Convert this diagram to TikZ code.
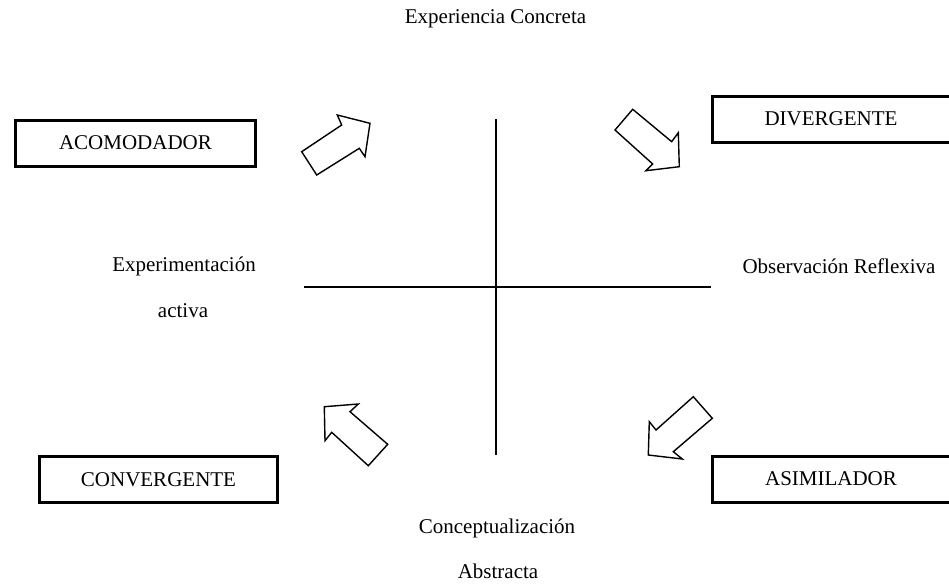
\documentclass[tikz,border=0pt]{standalone}
\usepackage{fontspec}
\setmainfont{Liberation Serif}
\begin{document}
\begin{tikzpicture}[x=1pt,y=-1pt,
  every node/.style={font=\fontsize{21}{25}\selectfont, inner sep=0pt},
  stylebox/.style={draw, line width=3pt, minimum width=#1, minimum height=46pt},
  blockarrow/.style={draw, line width=1.4pt, fill=white, line join=miter},
  axis/.style={line width=1.5pt}]
\useasboundingbox (0,0) rectangle (949,584);

% boxes
\node[stylebox=240pt] (acom) at (135.5,143) {ACOMODADOR};
\node[stylebox=246pt] (div) at (835.5,119) {DIVERGENTE\hspace*{9pt}};
\node[stylebox=238pt] (conv) at (158.5,479.5) {CONVERGENTE};
\node[stylebox=246pt] (asim) at (835.5,479) {ASIMILADOR\hspace*{9pt}};

% labels
\node (ec) at (495.5,19) {Experiencia Concreta};
\node (ea1) at (184,266) {Experimentación};
\node (ea2) at (183,311) {activa};
\node (or) at (839,266) {Observación Reflexiva};
\node (ca1) at (497,528) {Conceptualización};
\node (ca2) at (498,571) {Abstracta};

% axes
\coordinate (vt) at (496,119);
\coordinate (vb) at (496,455);
\coordinate (hl) at (304,287);
\coordinate (hr) at (711,287);
\draw[axis] (vt) -- (vb);
\draw[axis] (hl) -- (hr);

% block arrows
\draw[blockarrow] (316.7,175) -- (359.3,148.3) -- (365,156.7) -- (370,123.3) -- (337.3,115) -- (341.7,125) -- (301.7,151.7) -- cycle;
\draw[blockarrow] (615,130) -- (632.7,109.3) -- (671.7,141.7) -- (678.3,132.7) -- (679.3,166.7) -- (646,170.7) -- (652.7,164) -- cycle;
\draw[blockarrow] (368.3,465.7) -- (387.7,444.3) -- (350,411.7) -- (358.3,404) -- (324.3,406.7) -- (325,440.7) -- (331.7,432.3) -- cycle;
\draw[blockarrow] (693.3,396.7) -- (712.3,418.3) -- (673.3,451.7) -- (682.3,459) -- (648.3,455) -- (649.3,421.7) -- (656,430) -- cycle;
\end{tikzpicture}
\end{document}
